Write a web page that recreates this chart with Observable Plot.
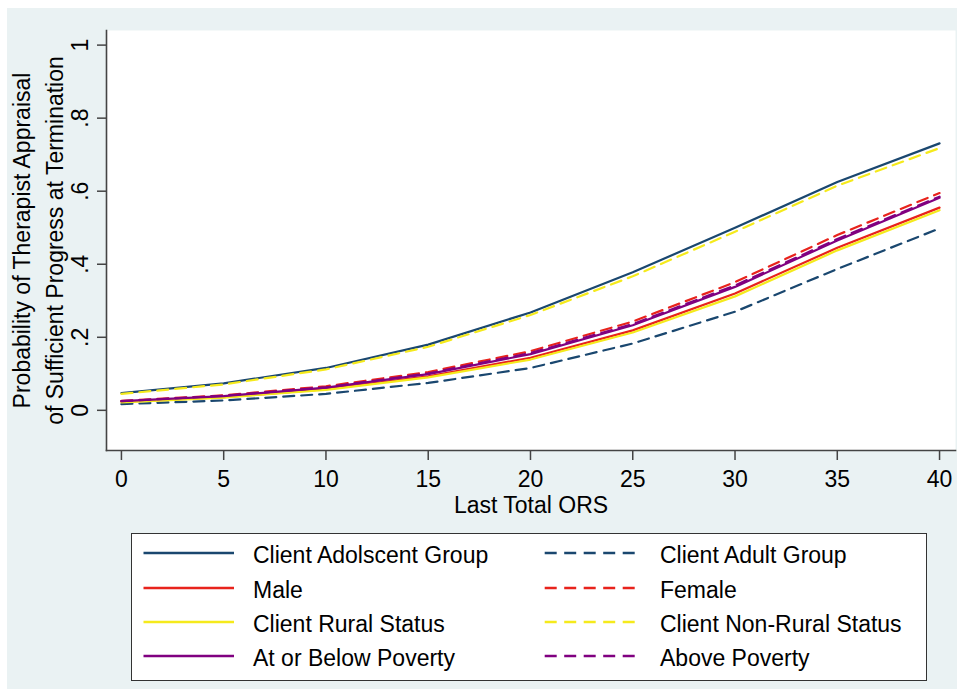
<!DOCTYPE html>
<html><head><meta charset="utf-8">
<script src="https://cdn.jsdelivr.net/npm/d3@7"></script>
<script src="https://cdn.jsdelivr.net/npm/@observablehq/plot@0.6"></script>
<style>
body{margin:0;background:#fff;font-family:"Liberation Sans",Arial,sans-serif;}
#wrap{position:absolute;left:7px;top:8px;width:950px;height:681px;background:#eaf2f3;}
#chart{position:absolute;left:0;top:0;}
#legend{position:absolute;left:124px;top:525px;width:796px;height:148px;background:#fff;border:1px solid #333;box-sizing:border-box;}
</style></head><body><div id="wrap"><div id="chart"></div><div id="legend"></div></div>
<script>
// ---- data ----
const ors = [0, 5, 10, 15, 20, 25, 30, 35, 40];
const adolescentGroup = [0.047, 0.074, 0.116, 0.180, 0.268, 0.378, 0.500, 0.625, 0.731];
const adultGroup      = [0.017, 0.027, 0.045, 0.075, 0.116, 0.183, 0.270, 0.387, 0.498];
const male            = [0.023, 0.036, 0.058, 0.093, 0.144, 0.219, 0.320, 0.445, 0.555];
const female          = [0.026, 0.041, 0.066, 0.105, 0.162, 0.243, 0.351, 0.480, 0.595];
const ruralStatus     = [0.022, 0.035, 0.056, 0.090, 0.139, 0.213, 0.312, 0.438, 0.548];
const nonRuralStatus  = [0.045, 0.071, 0.112, 0.174, 0.261, 0.367, 0.489, 0.615, 0.718];
const belowPoverty    = [0.025, 0.039, 0.062, 0.099, 0.154, 0.233, 0.338, 0.465, 0.582];
const abovePoverty    = [0.025, 0.040, 0.063, 0.101, 0.157, 0.236, 0.342, 0.469, 0.585];

const seriesLabels = ["Client Adolscent Group", "Client Adult Group", "Male", "Female",
  "Client Rural Status", "Client Non-Rural Status", "At or Below Poverty", "Above Poverty"];
const seriesValues = [adolescentGroup, adultGroup, male, female, ruralStatus, nonRuralStatus, belowPoverty, abovePoverty];
const seriesColors = ["#1a476f", "#1a476f", "#e8231c", "#e8231c", "#f5ea1c", "#f5ea1c", "#800080", "#800080"];
const seriesDashed = [false, true, false, true, false, true, false, true];

const xTicks = [0, 5, 10, 15, 20, 25, 30, 35, 40];
const yTicks = [0, 0.2, 0.4, 0.6, 0.8, 1];
const yTickLabels = ["0", ".2", ".4", ".6", ".8", "1"];
const xTitle = "Last Total ORS";
const yTitle1 = "Probability of Therapist Appraisal";
const yTitle2 = "of Sufficient Progress at Termination";

// ---- build ----
const DASH = "11,7";
const axisColor = "#444";
const fs = 23;

const lineMarks = seriesValues.map((vals, i) => {
  const rows = ors.map((x, j) => ({x, y: vals[j]}));
  return Plot.line(rows, {x: "x", y: "y", stroke: seriesColors[i], strokeWidth: 2.2,
    strokeDasharray: seriesDashed[i] ? DASH : null});
});

const chart = Plot.plot({
  width: 950, height: 522,
  marginLeft: 99, marginRight: 2, marginTop: 22, marginBottom: 80,
  style: {background: "transparent", fontFamily: "Liberation Sans, Arial, sans-serif", fontSize: fs + "px", color: "#000", overflow: "visible"},
  x: {domain: [-0.73, 40.78], axis: null},
  y: {domain: [-0.11, 1.04], axis: null},
  marks: [
    Plot.frame({fill: "white", stroke: null}),
    ...lineMarks,
    Plot.frame({anchor: "left", stroke: axisColor, strokeWidth: 1.6}),
    Plot.frame({anchor: "bottom", stroke: axisColor, strokeWidth: 1.6}),
    Plot.axisY(yTicks, {tickSize: 9, tickFormat: () => "", stroke: axisColor, strokeWidth: 1.5, label: null}),
    Plot.text(yTicks, {y: d => d, frameAnchor: "left", dx: -26, rotate: -90, text: (d, i) => yTickLabels[i],
      textAnchor: "middle", lineAnchor: "middle", fontSize: fs, fill: "#000"}),
    Plot.axisX(xTicks, {tickSize: 10, tickPadding: 10, stroke: axisColor, strokeWidth: 1.5, fontSize: fs, label: null, fill: "#000"}),
    Plot.text([xTitle], {frameAnchor: "bottom", dy: 55, lineAnchor: "middle", fontSize: fs, fill: "#000"}),
    Plot.text([yTitle1], {frameAnchor: "left", dx: -84, rotate: -90, textAnchor: "middle", lineAnchor: "middle", fontSize: fs, fill: "#000"}),
    Plot.text([yTitle2], {frameAnchor: "left", dx: -51, rotate: -90, textAnchor: "middle", lineAnchor: "middle", fontSize: fs, fill: "#000"})
  ]
});
document.getElementById("chart").appendChild(chart);

// ---- legend ----
const leg = d3.select("#legend").append("svg").attr("width", 794).attr("height", 146)
  .style("position", "absolute").style("left", 0).style("top", 0)
  .style("font-family", "Liberation Sans, Arial, sans-serif");
const rowY = [19, 54, 88, 122];
const colLine = [[11.5, 102], [412.7, 504.7]];
const colText = [121, 528];
seriesLabels.forEach((lab, i) => {
  const c = i % 2, r = Math.floor(i / 2);
  leg.append("line").attr("x1", colLine[c][0]).attr("x2", colLine[c][1])
    .attr("y1", rowY[r]).attr("y2", rowY[r])
    .attr("stroke", seriesColors[i]).attr("stroke-width", 2.6)
    .attr("stroke-dasharray", seriesDashed[i] ? "12,7.5" : null);
  leg.append("text").attr("x", colText[c]).attr("y", rowY[r] + 2).attr("dy", "0.35em")
    .attr("font-size", fs).attr("fill", "#000").text(lab);
});
</script></body></html>
